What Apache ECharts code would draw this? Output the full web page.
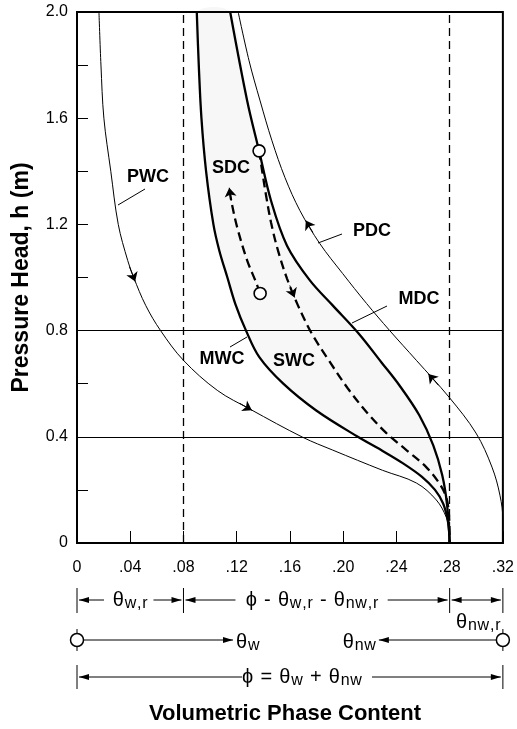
<!DOCTYPE html>
<html><head><meta charset="utf-8">
<script src="https://cdn.jsdelivr.net/npm/echarts@6/dist/echarts.min.js"></script>
<style>html,body{margin:0;padding:0;background:#fff}#c{width:517px;height:729px}</style>
</head><body><div id="c"></div>
<script>
// ---------- data (theta, h) ----------
const pwc = [[0.0165,2.0],[0.018,1.8],[0.0202,1.6],[0.0254,1.4],[0.031,1.2],[0.0381,1.064],[0.0426,1.0],[0.0516,0.895],[0.0628,0.8],[0.080,0.688],[0.1054,0.575],[0.1301,0.504],[0.1697,0.398],[0.1921,0.35],[0.2295,0.274],[0.255,0.226],[0.270,0.162],[0.2774,0.098],[0.2796,0.049],[0.28,0]];
const mwc = [[0.090,2.0],[0.0915,1.8],[0.0935,1.6],[0.097,1.4],[0.1025,1.2],[0.107,1.1],[0.113,1.0],[0.119,0.9],[0.127,0.8],[0.137,0.7],[0.155,0.6],[0.1795,0.5],[0.211,0.4],[0.2285,0.35],[0.245,0.3],[0.259,0.25],[0.269,0.2],[0.275,0.15],[0.278,0.1],[0.2795,0.05],[0.28,0]];
const mdc = [[0.1151,2.0],[0.1279,1.665],[0.1368,1.477],[0.1458,1.289],[0.1578,1.12],[0.175,0.989],[0.1921,0.895],[0.2116,0.789],[0.2288,0.68],[0.2422,0.594],[0.2572,0.481],[0.2677,0.368],[0.2744,0.256],[0.2781,0.143],[0.28,0]];
const pdc = [[0.1211,2.0],[0.1293,1.816],[0.1376,1.665],[0.1465,1.515],[0.1563,1.376],[0.1675,1.252],[0.1824,1.128],[0.1996,1.015],[0.2176,0.902],[0.2348,0.801],[0.255,0.688],[0.2796,0.549],[0.2998,0.414],[0.3118,0.286],[0.3178,0.18],[0.32,0.086],[0.32,0]];
const swc = [[0.1368,1.477],[0.1391,1.402],[0.1421,1.308],[0.1458,1.207],[0.151,1.102],[0.1578,0.996],[0.166,0.895],[0.1764,0.789],[0.1892,0.688],[0.2034,0.583],[0.2183,0.489],[0.2325,0.414],[0.2475,0.35],[0.2624,0.286],[0.2721,0.226],[0.2774,0.173],[0.2796,0.098],[0.28,0]];
const sdc = [[0.1376,0.94],[0.1346,0.981],[0.1279,1.064],[0.1204,1.188],[0.1159,1.289],[0.1144,1.338]];
const reversalPoints = [[0.1368,1.477],[0.1376,0.94]];
const hLines = [0.4, 0.8];
const residualLines = [0.08, 0.28];
const bracketMarks = [0, 0.08, 0.28, 0.32];
const arrowSegs = [
  [[0.0395,1.04],[0.0437,0.985]],
  [[0.1223,0.526],[0.1314,0.50]],
  [[0.1772,1.17],[0.1719,1.215]],
  [[0.2716,0.594],[0.2640,0.637]],
  [[0.1599,0.97],[0.1635,0.925]],
  [[0.1159,1.289],[0.1144,1.338]]
];
const curveLabels = ['PWC','SDC','PDC','MDC','MWC','SWC'];

// ---------- chart ----------
const FONT = '"Liberation Sans", Arial, Helvetica, sans-serif';
const chart = echarts.init(document.getElementById('c'));

function lineSeries(data, width, type){
  return {type:'line', data, smooth:0.35, showSymbol:false, silent:true,
    lineStyle:{color:'#000', width, type: type||'solid', opacity:1}, z:3};
}

const option = {
  animation:false,
  grid:{left:77, right:13, top:12, bottom:186, show:true, borderColor:'#000', borderWidth:2, backgroundColor:'transparent'},
  xAxis:{type:'value', min:0, max:0.32, interval:0.04,
    axisLine:{show:true, lineStyle:{color:'#000', width:2}},
    axisTick:{show:true, inside:true, length:12, lineStyle:{color:'#000', width:1}},
    splitLine:{show:false},
    axisLabel:{margin:17, color:'#000', fontSize:16, fontFamily:FONT,
      formatter:v=>{const k=Math.round(v*100); return k===0?'0':'.'+String(k).padStart(2,'0');}}},
  yAxis:{type:'value', min:0, max:2, interval:0.2,
    name:'Pressure Head, h (m)', nameLocation:'middle', nameGap:44,
    nameTextStyle:{fontSize:23, fontWeight:'bold', color:'#000', fontFamily:FONT},
    axisLine:{show:true, lineStyle:{color:'#000', width:2}},
    axisTick:{show:true, inside:true, length:11, lineStyle:{color:'#000', width:1}},
    splitLine:{show:false},
    axisLabel:{margin:9, color:'#000', fontSize:16, fontFamily:FONT,
      formatter:v=>{const k=Math.round(v*10); return k%4===0?(k===0?'0':(k/10).toFixed(1)):'';}}},
  series:[
    {type:'custom', silent:true, z:1, data:[0],
      renderItem:(params, api)=>{
        const pts = mwc.map(p=>api.coord(p)).concat(mdc.slice().reverse().map(p=>api.coord(p)));
        return {type:'polygon', shape:{points:pts, smooth:0.3}, style:{fill:'rgba(0,0,0,0.03)'}};
      }},
    Object.assign(lineSeries(pwc,1), {markLine:{silent:true, symbol:'none', label:{show:false},
      lineStyle:{color:'#000'},
      data: hLines.map(v=>({yAxis:v, lineStyle:{type:'solid', width:1, color:'#000'}}))
        .concat(residualLines.map(v=>({xAxis:v, lineStyle:{type:[8,5], width:1.3, color:'#000'}})))}}),
    lineSeries(mwc,2.3),
    lineSeries(mdc,2.3),
    lineSeries(pdc,1),
    lineSeries(swc,2.3,[9,5]),
    lineSeries(sdc,2.3,[9,5]),
    {type:'lines', coordinateSystem:'cartesian2d', silent:true, z:4,
      symbol:['none','arrow'], symbolSize:9,
      lineStyle:{color:'#000', width:1, opacity:1},
      data: arrowSegs.map(s=>({coords:s}))},
    {type:'scatter', data:reversalPoints, symbol:'circle', symbolSize:12, silent:true, z:6,
      itemStyle:{color:'#fff', borderColor:'#000', borderWidth:1.6, opacity:1}}
  ]
};
chart.setOption(option);

// ---------- annotations ----------
const ctx = document.createElement('canvas').getContext('2d');
function measure(t, size, weight){ ctx.font=(weight||'normal')+' '+size+'px '+FONT; return ctx.measureText(t).width; }
const G = [];
function txt(t, x, y, size, weight, align){
  G.push({type:'text', x, y, z:10, style:{text:t, fontSize:size, fontWeight:weight||'normal', fontFamily:FONT, fill:'#000',
    align:align||'center', verticalAlign:'middle', textAlign:align||'center', textVerticalAlign:'middle'}});
}
const MS=20, SS=16, LS=0.8;
function partsWidth(parts){
  let w=0; parts.forEach(p=>{const s=p[1]?SS:MS; for(const ch of p[0]) w+=measure(ch,s)+LS;}); return w-LS;
}
function rich(parts, x, y, align){
  const w = partsWidth(parts);
  let cx = align==='center'? x-w/2 : align==='right'? x-w : x;
  parts.forEach(p=>{const s=p[1]?SS:MS; for(const ch of p[0]){ txt(ch, cx, y+(p[1]?4:0), s, 'normal', 'left'); cx+=measure(ch,s)+LS; }});
}
function seg(x1,y1,x2,y2,w){ G.push({type:'line', z:10, shape:{x1,y1,x2,y2}, style:{stroke:'#000', lineWidth:w||1}}); }
function head(x,y,dir){ G.push({type:'polygon', z:10, shape:{points:[[x,y],[x-dir*10,y-3],[x-dir*10,y+3]]}, style:{fill:'#000'}}); }
function arrow(x1,x2,y){ seg(x1,y,x2,y,1); head(x2,y,x2>x1?1:-1); }
function circ(x,y){ seg(x,y-11,x,y+11,1); G.push({type:'circle', z:11, shape:{cx:x, cy:y, r:6.5}, style:{fill:'#fff', stroke:'#000', lineWidth:1.5}}); }

const X = bracketMarks.map(v=>chart.convertToPixel({xAxisIndex:0}, v));
const [X0,X1,X2,X3] = X;
// row 1
const r1 = 600;
[X0,X1,X2,X3].forEach(x=>seg(x,r1-12,x,r1+13,1));
arrow(X0+27, X0+2, r1);
rich([['θ',0],['w,r',1]], (X0+X1)/2, r1, 'center');
arrow(X1-30, X1-2, r1);
arrow(X1+52, X1+2, r1);
rich([['ϕ - θ',0],['w,r',1],[' - θ',0],['nw,r',1]], 312, r1, 'center');
arrow(X2-62, X2-2, r1);
seg(X2+2, r1, X3-2, r1, 1); head(X2+2, r1, -1); head(X3-2, r1, 1);
rich([['θ',0],['nw,r',1]], (X2+X3)/2+2, r1+22, 'center');
// row 2
const r2 = 640;
circ(X0, r2); arrow(X0+6.5, X0+156, r2);
rich([['θ',0],['w',1]], X0+159, r2+2, 'left');
circ(X3, r2); arrow(X3-6.5, X3-124, r2);
rich([['θ',0],['nw',1]], X3-127, r2+2, 'right');
// row 3
const r3 = 677;
seg(X0, r3-12, X0, r3+12, 1); seg(X3, r3-12, X3, r3+12, 1);
arrow(X0+165, X0+2, r3);
rich([['ϕ = θ',0],['w',1],[' + θ',0],['nw',1]], 302, r3, 'center');
arrow(372, X3-2, r3);
// x title
txt('Volumetric Phase Content', 285, 714, 22, 'bold', 'center');
// curve labels & leaders
const labelPos = [[148,177],[231,168],[372,231],[419,299],[222,359],[294,361]];
curveLabels.forEach((t,i)=>txt(t, labelPos[i][0], labelPos[i][1], 18, 'bold', 'center'));
seg(145,189,118,205,1);
seg(342,234,318,243,1);
seg(387,306,352,323,1);
seg(230,347,247,337,1);

chart.setOption({graphic:G});
</script></body></html>
